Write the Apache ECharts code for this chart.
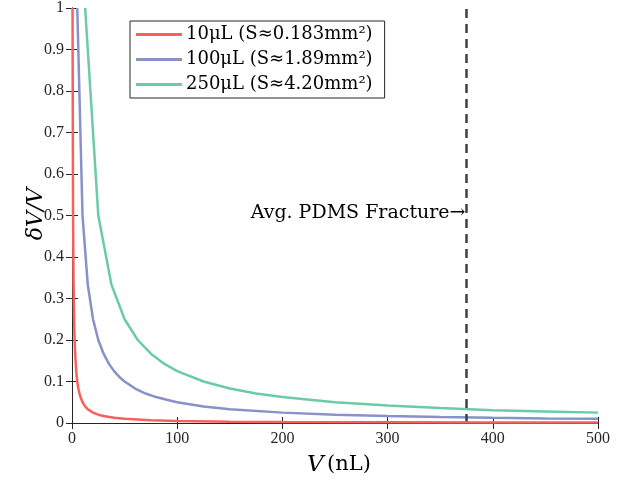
<!DOCTYPE html>
<html><head><meta charset="utf-8">
<script src="https://cdn.jsdelivr.net/npm/echarts@6/dist/echarts.min.js"></script>
<style>html,body{margin:0;padding:0;background:#fff}#c{width:629px;height:480px}</style>
</head><body><div id="c"></div>
<script>
const seriesNames = ['10μL (S≈0.183mm²)', '100μL (S≈1.89mm²)', '250μL (S≈4.20mm²)'];
const colors = ['#f9605c', '#8891c8', '#6ccba6'];
// volumes (nL) and dV/V values
const v10 = [0.5, 1, 1.5, 2, 2.5, 3, 4, 5, 6, 7.5, 10, 12.5, 15, 20, 25, 30, 40, 50, 75, 100, 150, 200, 300, 400, 500];
const d10 = [1.0, 0.5, 0.333, 0.25, 0.2, 0.167, 0.125, 0.1, 0.083, 0.067, 0.05, 0.04, 0.033, 0.025, 0.02, 0.017, 0.0125, 0.01, 0.0067, 0.005, 0.0033, 0.0025, 0.0017, 0.00125, 0.001];
const v100 = [5, 10, 15, 20, 25, 30, 35, 40, 45, 50, 60, 70, 80, 90, 100, 125, 150, 200, 250, 300, 350, 400, 450, 500];
const d100 = [1.0, 0.5, 0.333, 0.25, 0.2, 0.167, 0.143, 0.125, 0.111, 0.1, 0.083, 0.071, 0.0625, 0.056, 0.05, 0.04, 0.033, 0.025, 0.02, 0.017, 0.0143, 0.0125, 0.011, 0.01];
const v250 = [12.5, 25, 37.5, 50, 62.5, 75, 87.5, 100, 125, 150, 175, 200, 250, 300, 350, 400, 450, 500];
const d250 = [1.0, 0.5, 0.333, 0.25, 0.2, 0.167, 0.143, 0.125, 0.1, 0.083, 0.071, 0.0625, 0.05, 0.042, 0.036, 0.031, 0.028, 0.025];
const fractureV = 375;
const xTicks = [0, 100, 200, 300, 400, 500];
const yTicks = [0, 0.1, 0.2, 0.3, 0.4, 0.5, 0.6, 0.7, 0.8, 0.9, 1];

const font = 'Liberation Serif, DejaVu Serif, serif';
const wfont = 'DejaVu Serif, serif';
const chart = echarts.init(document.getElementById('c'));
const pairs = (xs, ys) => xs.map((x, i) => [x, ys[i]]);
const axisCommon = {
  axisLine: {show: true, lineStyle: {color: '#262626', width: 1}},
  axisTick: {show: true, inside: true, length: 6, lineStyle: {color: '#262626'}},
  splitLine: {show: false}
};
const fmt = v => String(+v.toFixed(1));
chart.setOption({
  animation: false,
  grid: {left: 72, right: 31, top: 8, bottom: 57, containLabel: false},
  xAxis: [
    Object.assign({type: 'value', min: 0, max: 500, interval: 100, position: 'bottom',
      axisLabel: {color: '#262626', fontFamily: font, fontSize: 16, margin: 8}}, axisCommon),
    Object.assign({type: 'value', min: 0, max: 500, interval: 100, position: 'top',
      axisLabel: {show: false}}, axisCommon)
  ],
  yAxis: [
    Object.assign({type: 'value', min: 0, max: 1, interval: 0.1, position: 'left',
      axisLabel: {color: '#262626', fontFamily: font, fontSize: 16, margin: 8, formatter: fmt}}, axisCommon),
    Object.assign({type: 'value', min: 0, max: 1, interval: 0.1, position: 'right',
      axisLabel: {show: false}}, axisCommon)
  ],
  legend: {
    left: 130, top: 21, orient: 'vertical', itemGap: 0,
    itemWidth: 46, itemHeight: 3, padding: [1, 12, 1, 6],
    borderColor: '#262626', borderWidth: 1, backgroundColor: '#fff',
    textStyle: {fontFamily: wfont, fontSize: 18, color: '#000', lineHeight: 25, padding: [0, 0, 0, -1]},
    icon: 'rect', data: seriesNames
  },
  series: [
    {name: seriesNames[0], type: 'line', data: pairs(v10, d10), showSymbol: false, color: colors[0], lineStyle: {width: 2.5}, z: 5},
    {name: seriesNames[1], type: 'line', data: pairs(v100, d100), showSymbol: false, color: colors[1], lineStyle: {width: 2.5}, z: 4},
    {name: seriesNames[2], type: 'line', data: pairs(v250, d250), showSymbol: false, color: colors[2], lineStyle: {width: 2.5}, z: 3},
    {name: 'fracture', type: 'line', data: [], markLine: {symbol: 'none', silent: true,
      lineStyle: {color: '#404040', type: [9, 6], width: 2.5},
      label: {show: false}, data: [{xAxis: fractureV}]}}
  ]
});
const px = chart.convertToPixel({xAxisIndex: 0, yAxisIndex: 0}, [fractureV, 0.5]);
chart.setOption({graphic: [
  {type: 'text', x: px[0] - 1, y: px[1] - 2, style: {text: 'Avg. PDMS Fracture→', font: '19px ' + wfont, fill: '#000', align: 'right', verticalAlign: 'middle'}},
  {type: 'text', x: 339, y: 465, style: {rich: {i: {fontStyle: 'italic', fontFamily: wfont, fontSize: 23}, n: {fontFamily: wfont, fontSize: 21}}, text: '{i|V} {n|(nL)}', fill: '#000', align: 'center', verticalAlign: 'middle'}},
  {type: 'text', x: 36, y: 214, rotation: Math.PI / 2, style: {text: 'δV/V', font: 'italic 22px ' + wfont, fill: '#000', align: 'center', verticalAlign: 'middle'}}
]});
</script></body></html>
